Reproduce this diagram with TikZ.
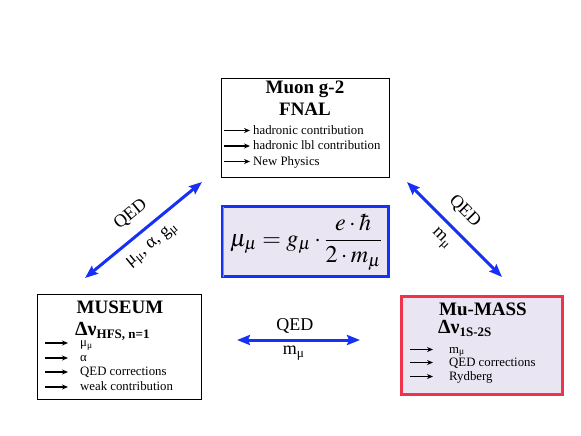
\documentclass[tikz,border=0pt]{standalone}
\usepackage{amsmath}
\usepackage{mathptmx}
\usepackage{fontspec}
\setmainfont{Liberation Serif}
\usepackage{tikz}
\usetikzlibrary{arrows.meta, positioning}
\definecolor{qedblue}{RGB}{22,48,245}
\definecolor{boxred}{RGB}{240,50,75}
\definecolor{boxfill}{RGB}{233,229,242}
\definecolor{edgeorange}{RGB}{210,140,70}
\tikzset{
	expbox/.style={draw, line width=0.9pt, inner sep=0pt},
	titletxt/.style={anchor=base, inner sep=0pt, font=\fontsize{19}{21}\selectfont\bfseries},
	deltatxt/.style={anchor=base west, inner sep=0pt, font=\fontsize{20}{22}\selectfont\bfseries},
	itemtxt/.style={anchor=base west, inner sep=0pt, font=\fontsize{12.8}{14}\selectfont},
	itemarr/.style={->, line width=1.4pt, >={Stealth[length=6pt,width=5pt]}},
	qedarr/.style={<->, line width=3pt, draw=qedblue, >={Stealth[length=13pt,width=10pt,inset=2pt]}},
	qedlbl/.style={inner sep=0pt, font=\fontsize{18}{20}\selectfont},
}
\begin{document}
\begin{tikzpicture}[x=1pt, y=-1pt]
	\useasboundingbox (0,0) rectangle (581,436);
	% boxes
	\node[expbox, minimum width=168pt, minimum height=99pt] (fnal) at (305,127.5) {};
	\node[expbox, minimum width=164pt, minimum height=105pt] (museum) at (119,346.5) {};
	\node[expbox, draw=boxred, line width=3pt, fill=boxfill, minimum width=161pt, minimum height=98pt] (mumass) at (482,345.5) {};
	\node[expbox, draw=qedblue, line width=3pt, fill=boxfill, minimum width=166pt, minimum height=70pt] (formula) at (305.5,241.5) {};
	\draw[edgeorange, line width=1pt] ([xshift=2.5pt,yshift=-1.5pt]formula.north west) -- ([xshift=2.5pt,yshift=1.5pt]formula.south west);
	\node[inner sep=0pt, font=\fontsize{24}{28}\selectfont] (eq) at (306,242) {$\mu_\mu = g_\mu\cdot\dfrac{e\cdot\hbar}{2\cdot m_\mu}$};
	% Muon g-2
	\node[titletxt] (fnalt) at (305,93) {Muon g-2};
	\node[titletxt] (fnals) at (305,115) {FNAL};
	\node[itemtxt] (f1) at (253,134) {hadronic contribution};
	\node[itemtxt] (f2) at (253,149.5) {hadronic lbl contribution};
	\node[itemtxt] (f3) at (253,165) {New Physics};
	\draw[itemarr] ([xshift=-29pt,yshift=3.5pt]f1.base west) -- ([xshift=-3pt,yshift=3.5pt]f1.base west);
	\draw[itemarr] ([xshift=-29pt,yshift=3.5pt]f2.base west) -- ([xshift=-3pt,yshift=3.5pt]f2.base west);
	\draw[itemarr] ([xshift=-29pt,yshift=3.5pt]f3.base west) -- ([xshift=-3pt,yshift=3.5pt]f3.base west);
	% MUSEUM
	\node[titletxt] (must) at (120,313) {MUSEUM};
	\node[deltatxt] (musd) at (75,335) {Δν\textsubscript{\fontsize{13}{14}\selectfont HFS, n=1}};
	\node[itemtxt] (m1) at (80,346.5) {μ\textsubscript{μ}};
	\node[itemtxt] (m2) at (80,361.5) {α};
	\node[itemtxt] (m3) at (80,375.5) {QED corrections};
	\node[itemtxt] (m4) at (80,390.5) {weak contribution};
	\draw[itemarr] ([xshift=-35pt,yshift=3.5pt]m1.base west) -- ([xshift=-12pt,yshift=3.5pt]m1.base west);
	\draw[itemarr] ([xshift=-35pt,yshift=3.5pt]m2.base west) -- ([xshift=-12pt,yshift=3.5pt]m2.base west);
	\draw[itemarr] ([xshift=-35pt,yshift=3.5pt]m3.base west) -- ([xshift=-12pt,yshift=3.5pt]m3.base west);
	\draw[itemarr] ([xshift=-35pt,yshift=3.5pt]m4.base west) -- ([xshift=-12pt,yshift=3.5pt]m4.base west);
	% Mu-MASS
	\node[titletxt] (mmt) at (483,315) {Mu-MASS};
	\node[deltatxt] (mmd) at (438,333) {Δν\textsubscript{\fontsize{13}{14}\selectfont 1S-2S}};
	\node[itemtxt] (u1) at (449,353) {m\textsubscript{μ}};
	\node[itemtxt] (u2) at (449,366) {QED corrections};
	\node[itemtxt] (u3) at (449,380) {Rydberg};
	\draw[itemarr] ([xshift=-39pt,yshift=3.5pt]u1.base west) -- ([xshift=-16pt,yshift=3.5pt]u1.base west);
	\draw[itemarr] ([xshift=-39pt,yshift=3.5pt]u2.base west) -- ([xshift=-16pt,yshift=3.5pt]u2.base west);
	\draw[itemarr] ([xshift=-39pt,yshift=3.5pt]u3.base west) -- ([xshift=-16pt,yshift=3.5pt]u3.base west);
	% QED links
	\coordinate (l1) at (85,278);
	\coordinate (l2) at (202,182);
	\coordinate (r1) at (407,182);
	\coordinate (r2) at (502,277);
	\coordinate (h1) at (237,340);
	\coordinate (h2) at (360,340);
	\draw[qedarr] (l1) -- node[qedlbl, sloped, above=11pt, pos=0.5] (lq) {QED} node[qedlbl, sloped, below=9pt, pos=0.48] (lm) {μ\textsubscript{μ}, α, g\textsubscript{μ}} (l2);
	\draw[qedarr] (r1) -- node[qedlbl, sloped, above=11pt, pos=0.46] (rq) {QED} node[qedlbl, sloped, below=8pt, pos=0.48] (rm) {m\textsubscript{μ}} (r2);
	\draw[qedarr] (h1) -- node[qedlbl, above=5pt, pos=0.47] (hq) {QED} node[qedlbl, below=5pt, pos=0.46] (hm) {m\textsubscript{μ}} (h2);
\end{tikzpicture}
\end{document}
